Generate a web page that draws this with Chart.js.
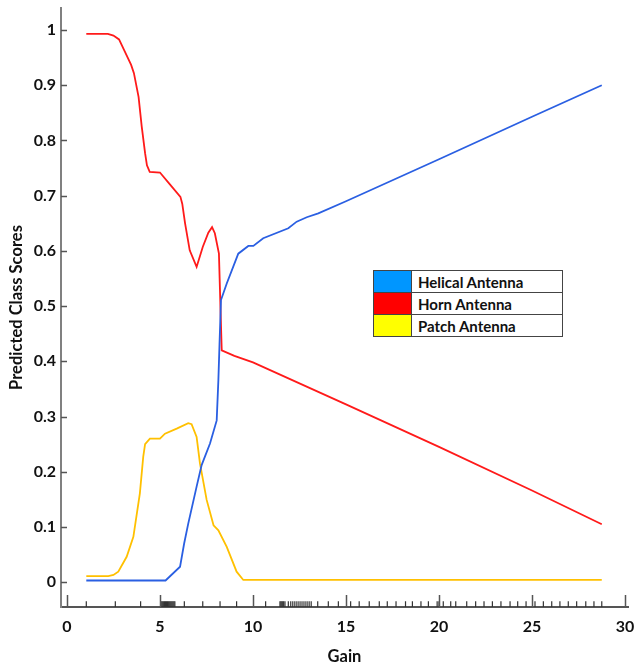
<!DOCTYPE html>
<html>
<head>
<meta charset="utf-8">
<script src="https://cdn.jsdelivr.net/npm/chart.js@4.4.1/dist/chart.umd.min.js"></script>
<style>
  html, body { margin: 0; padding: 0; background: #ffffff; }
  #wrap { position: relative; width: 641px; height: 669px; }
  #key {
    position: absolute; left: 373px; top: 270px;
    border-collapse: collapse; font-family: Lato, "Liberation Sans", sans-serif;
    font-weight: bold; font-size: 15px; color: #111;
    background: #fff;
  }
  #key td { border: 1px solid #444; height: 21px; padding: 0; line-height: 18px; }
  #key td.sw { width: 37px; }
  #key td.lb { width: 144px; padding-left: 6px; }
</style>
</head>
<body>
<div id="wrap">
  <canvas id="c" width="641" height="669"></canvas>
  <table id="key">
    <tr><td class="sw" style="background:#0096ff"></td><td class="lb">Helical Antenna</td></tr>
    <tr><td class="sw" style="background:#ff0000"></td><td class="lb">Horn Antenna</td></tr>
    <tr><td class="sw" style="background:#ffff00"></td><td class="lb">Patch Antenna</td></tr>
  </table>
</div>
<script>
// Predicted class scores against gain, one curve per antenna class
const helicalGain  = [1.04, 5.3, 6.08, 6.3, 6.52, 6.97, 7.24, 7.69, 8.05, 8.14, 8.2, 8.28, 8.59, 9.21, 9.75, 10.02, 10.55, 11.9, 12.35, 12.89, 13.51, 15, 20, 25, 28.75];
const helicalScore = [0.003, 0.003, 0.028, 0.07, 0.106, 0.173, 0.212, 0.251, 0.293, 0.366, 0.43, 0.511, 0.541, 0.595, 0.609, 0.609, 0.623, 0.641, 0.653, 0.661, 0.668, 0.69, 0.766, 0.843, 0.9];

const hornGain  = [1.04, 2.2, 2.5, 2.8, 3.1, 3.45, 3.6, 3.85, 4.02, 4.2, 4.3, 4.45, 5.0, 5.5, 6.1, 6.2, 6.35, 6.6, 6.97, 7.3, 7.6, 7.8, 7.95, 8.17, 8.25, 8.32, 9.0, 10, 15, 20, 25, 28.75];
const hornScore = [0.993, 0.993, 0.99, 0.983, 0.962, 0.937, 0.922, 0.879, 0.825, 0.777, 0.755, 0.743, 0.742, 0.722, 0.698, 0.685, 0.65, 0.601, 0.571, 0.607, 0.633, 0.643, 0.632, 0.595, 0.5, 0.42, 0.41, 0.398, 0.322, 0.245, 0.166, 0.105];

const patchGain  = [1.04, 2.22, 2.5, 2.76, 3.21, 3.57, 3.92, 4.1, 4.2, 4.46, 5.0, 5.27, 5.9, 6.52, 6.7, 6.97, 7.15, 7.51, 7.88, 8.14, 8.59, 9.12, 9.48, 28.75];
const patchScore = [0.011, 0.011, 0.013, 0.019, 0.046, 0.082, 0.161, 0.227, 0.25, 0.26, 0.26, 0.269, 0.278, 0.288, 0.286, 0.263, 0.215, 0.149, 0.103, 0.094, 0.064, 0.019, 0.004, 0.004];

// Observed gain values, shown as a rug along the x axis
const rugGain = [1.04, 2.6, 3.96,
  5.05, 5.1, 5.15, 5.2, 5.25, 5.3, 5.35, 5.4, 5.45, 5.5, 5.55, 5.6, 5.65, 5.7, 5.75, 5.8,
  6.31, 7.3, 8.23, 9.12, 10.68, 11.45, 11.5, 11.55, 11.6, 11.65, 11.72, 11.9,
  12.03, 12.14, 12.25, 12.36, 12.47, 12.58, 12.69, 12.8, 12.91, 13.02, 13.13,
  13.48, 14.05, 14.59, 15.25, 15.71, 16.25, 16.79, 17.22, 17.69, 18.2, 18.57, 19.03, 19.43,
  19.9, 20.0, 20.23, 20.63, 20.9, 21.49, 21.97, 22.42, 22.87, 23.33, 23.82, 24.23, 24.68,
  25.16, 25.61, 26.06, 26.5, 26.95, 27.4, 27.89, 28.33, 28.75];
const rugLevel = -0.04;

const xTicks = [0, 5, 10, 15, 20, 25, 30];
const yTicks = [0, 0.1, 0.2, 0.3, 0.4, 0.5, 0.6, 0.7, 0.8, 0.9, 1];

const pts = (xs, ys) => xs.map((x, i) => ({ x: x, y: ys[i] }));

// Tick marks drawn inward from both axis lines
const inwardTicks = {
  id: 'inwardTicks',
  afterDatasetsDraw(chart) {
    const { ctx, scales: { x, y } } = chart;
    ctx.save();
    ctx.strokeStyle = '#555555';
    ctx.lineWidth = 1.5;
    ctx.beginPath();
    yTicks.forEach(v => {
      const py = Math.round(y.getPixelForValue(v)) + 0.5;
      ctx.moveTo(x.left, py);
      ctx.lineTo(x.left + 6, py);
    });
    xTicks.forEach(v => {
      const px = Math.round(x.getPixelForValue(v)) + 0.5;
      ctx.moveTo(px, y.bottom);
      ctx.lineTo(px, y.bottom - 12);
    });
    ctx.stroke();
    ctx.restore();
  }
};

const font = { family: 'Lato, "Liberation Sans", sans-serif', weight: 'bold' };

new Chart(document.getElementById('c'), {
  type: 'scatter',
  data: {
    datasets: [
      { label: 'Helical Antenna', data: pts(helicalGain, helicalScore), showLine: true,
        borderColor: '#2a5fe2', borderWidth: 1.8, pointRadius: 0, tension: 0 },
      { label: 'Horn Antenna', data: pts(hornGain, hornScore), showLine: true,
        borderColor: '#ff1a1a', borderWidth: 1.8, pointRadius: 0, tension: 0 },
      { label: 'Patch Antenna', data: pts(patchGain, patchScore), showLine: true,
        borderColor: '#ffc000', borderWidth: 1.8, pointRadius: 0, tension: 0 },
      { label: 'rug', data: rugGain.map(g => ({ x: g, y: rugLevel })), showLine: false,
        pointStyle: 'line', rotation: 90, pointRadius: 3, borderColor: '#333333',
        borderWidth: 1.2, pointHoverRadius: 3 }
    ]
  },
  options: {
    responsive: false,
    animation: false,
    events: [],
    layout: { padding: { top: 8, right: 13, left: 0, bottom: 0 } },
    plugins: { legend: { display: false }, tooltip: { enabled: false } },
    scales: {
      x: {
        type: 'linear', min: -0.32, max: 30.16,
        afterFit: s => { s.height = 62; s.paddingLeft = 0; s.paddingRight = 0; },
        afterBuildTicks: s => { s.ticks = xTicks.map(v => ({ value: v })); },
        grid: { display: true, drawOnChartArea: false, drawTicks: false },
        border: { display: true, color: '#555555', width: 2 },
        ticks: { padding: 10, color: '#111', font: { ...font, size: 16 }, maxRotation: 0,
                 callback: v => String(v) },
        title: { display: true, text: 'Gain', color: '#111', font: { ...font, size: 16.5 },
                 padding: { top: 0, bottom: 2 } }
      },
      y: {
        type: 'linear', min: -0.045, max: 1.04,
        afterFit: s => { s.width = 61; s.paddingTop = 0; s.paddingBottom = 0; },
        afterBuildTicks: s => { s.ticks = yTicks.map(v => ({ value: v })); },
        grid: { display: true, drawOnChartArea: false, drawTicks: false },
        border: { display: true, color: '#808080', width: 2 },
        ticks: { padding: 5, color: '#111', font: { ...font, size: 16 },
                 callback: v => String(Number(v.toFixed(1))) },
        title: { display: true, text: 'Predicted Class Scores', color: '#111',
                 font: { ...font, size: 16.5 }, padding: { top: 7, bottom: 0 } }
      }
    }
  },
  plugins: [inwardTicks]
});
</script>
</body>
</html>
